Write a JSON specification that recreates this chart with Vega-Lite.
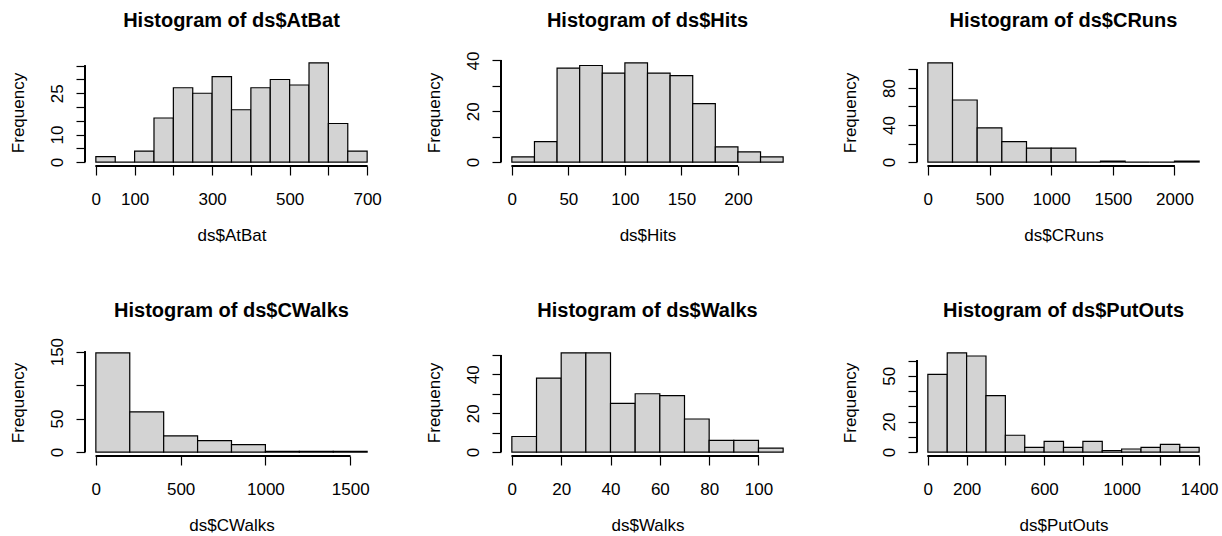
{
  "$schema": "https://vega.github.io/schema/vega-lite/v6.json",
  "padding": {"left": 9, "top": 10, "right": 0, "bottom": 0},
  "background": "#ffffff",
  "config": {
    "view": {"stroke": null},
    "title": {"font": "Liberation Sans", "fontSize": 20, "fontWeight": "bold", "color": "#000000", "baseline": "alphabetic", "anchor": "middle", "frame": "group"},
    "axis": {"labelFont": "Liberation Sans", "labelFontSize": 17, "labelColor": "#000000", "titleFont": "Liberation Sans", "titleFontSize": 17, "titleFontWeight": "normal", "titleColor": "#000000", "domain": false, "grid": false, "tickColor": "#000000", "tickSize": 9, "tickWidth": 1.2, "labelFlush": false, "labelOverlap": false, "labelBound": false, "format": "d"},
    "axisX": {"labelPadding": 16, "titlePadding": 20},
    "axisY": {"labelAngle": 270, "labelAlign": "center", "labelBaseline": "alphabetic", "labelPadding": 13.7, "titlePadding": 21}
  },
  "datasets": {
    "AtBat": [
      {"start": 0, "end": 50, "count": 2}, {"start": 50, "end": 100, "count": 0}, {"start": 100, "end": 150, "count": 4}, {"start": 150, "end": 200, "count": 16}, {"start": 200, "end": 250, "count": 27}, {"start": 250, "end": 300, "count": 25}, {"start": 300, "end": 350, "count": 31}, {"start": 350, "end": 400, "count": 19}, {"start": 400, "end": 450, "count": 27}, {"start": 450, "end": 500, "count": 30}, {"start": 500, "end": 550, "count": 28}, {"start": 550, "end": 600, "count": 36}, {"start": 600, "end": 650, "count": 14}, {"start": 650, "end": 700, "count": 4}
    ],
    "Hits": [
      {"start": 0, "end": 20, "count": 2}, {"start": 20, "end": 40, "count": 8}, {"start": 40, "end": 60, "count": 37}, {"start": 60, "end": 80, "count": 38}, {"start": 80, "end": 100, "count": 35}, {"start": 100, "end": 120, "count": 39}, {"start": 120, "end": 140, "count": 35}, {"start": 140, "end": 160, "count": 34}, {"start": 160, "end": 180, "count": 23}, {"start": 180, "end": 200, "count": 6}, {"start": 200, "end": 220, "count": 4}, {"start": 220, "end": 240, "count": 2}
    ],
    "CRuns": [
      {"start": 0, "end": 200, "count": 107}, {"start": 200, "end": 400, "count": 67}, {"start": 400, "end": 600, "count": 37}, {"start": 600, "end": 800, "count": 22}, {"start": 800, "end": 1000, "count": 15}, {"start": 1000, "end": 1200, "count": 15}, {"start": 1200, "end": 1400, "count": 0}, {"start": 1400, "end": 1600, "count": 1}, {"start": 1600, "end": 1800, "count": 0}, {"start": 1800, "end": 2000, "count": 0}, {"start": 2000, "end": 2200, "count": 1}
    ],
    "CWalks": [
      {"start": 0, "end": 200, "count": 148}, {"start": 200, "end": 400, "count": 60}, {"start": 400, "end": 600, "count": 24}, {"start": 600, "end": 800, "count": 17}, {"start": 800, "end": 1000, "count": 11}, {"start": 1000, "end": 1200, "count": 1}, {"start": 1200, "end": 1400, "count": 1}, {"start": 1400, "end": 1600, "count": 1}
    ],
    "Walks": [
      {"start": 0, "end": 10, "count": 8}, {"start": 10, "end": 20, "count": 38}, {"start": 20, "end": 30, "count": 51}, {"start": 30, "end": 40, "count": 51}, {"start": 40, "end": 50, "count": 25}, {"start": 50, "end": 60, "count": 30}, {"start": 60, "end": 70, "count": 29}, {"start": 70, "end": 80, "count": 17}, {"start": 80, "end": 90, "count": 6}, {"start": 90, "end": 100, "count": 6}, {"start": 100, "end": 110, "count": 2}
    ],
    "PutOuts": [
      {"start": 0, "end": 100, "count": 51}, {"start": 100, "end": 200, "count": 65}, {"start": 200, "end": 300, "count": 63}, {"start": 300, "end": 400, "count": 37}, {"start": 400, "end": 500, "count": 11}, {"start": 500, "end": 600, "count": 3}, {"start": 600, "end": 700, "count": 7}, {"start": 700, "end": 800, "count": 3}, {"start": 800, "end": 900, "count": 7}, {"start": 900, "end": 1000, "count": 1}, {"start": 1000, "end": 1100, "count": 2}, {"start": 1100, "end": 1200, "count": 3}, {"start": 1200, "end": 1300, "count": 5}, {"start": 1300, "end": 1400, "count": 3}
    ]
  },
  "columns": 3,
  "spacing": {"row": 183, "column": 123},
  "bounds": "flush",
  "concat": [
    {
      "title": {"text": "Histogram of ds$AtBat", "offset": 28},
      "width": 293, "height": 107,
      "data": {"name": "AtBat"},
      "layer": [
        {"mark": {"type": "rect", "fill": "#d3d3d3", "stroke": "#000000", "strokeWidth": 1.2},
         "encoding": {
           "x": {"field": "start", "type": "quantitative", "scale": {"domain": [-28, 728], "nice": false, "zero": false}, "axis": {"title": "ds$AtBat", "values": [0, 100, 200, 300, 400, 500, 600, 700], "labelExpr": "indexof([0,100,300,500,700], datum.value) >= 0 ? datum.label : ''"}},
           "x2": {"field": "end"},
           "y": {"field": "count", "type": "quantitative", "scale": {"domain": [-1.44, 37.44], "nice": false, "zero": false}, "axis": {"title": "Frequency", "values": [0, 5, 10, 15, 20, 25, 30, 35], "labelExpr": "indexof([0,10,25], datum.value) >= 0 ? datum.label : ''"}},
           "y2": {"datum": 0}
         }},
        {"mark": {"type": "rule", "stroke": "#000000", "strokeWidth": 1.2},
         "encoding": {
           "x": {"datum": 0, "type": "quantitative", "axis": {"title": "ds$AtBat", "values": [0, 100, 200, 300, 400, 500, 600, 700], "labelExpr": "indexof([0,100,300,500,700], datum.value) >= 0 ? datum.label : ''"}},
           "x2": {"datum": 700},
           "y": {"datum": -1.44, "type": "quantitative", "axis": {"title": "Frequency", "values": [0, 5, 10, 15, 20, 25, 30, 35], "labelExpr": "indexof([0,10,25], datum.value) >= 0 ? datum.label : ''"}}
         }},
        {"mark": {"type": "rule", "stroke": "#000000", "strokeWidth": 1.2},
         "encoding": {
           "x": {"datum": -28, "type": "quantitative", "axis": {"title": "ds$AtBat", "values": [0, 100, 200, 300, 400, 500, 600, 700], "labelExpr": "indexof([0,100,300,500,700], datum.value) >= 0 ? datum.label : ''"}},
           "y": {"datum": 0, "type": "quantitative", "axis": {"title": "Frequency", "values": [0, 5, 10, 15, 20, 25, 30, 35], "labelExpr": "indexof([0,10,25], datum.value) >= 0 ? datum.label : ''"}},
           "y2": {"datum": 35}
         }}
      ]
    },
    {
      "title": {"text": "Histogram of ds$Hits", "offset": 20},
      "width": 293, "height": 107,
      "data": {"name": "Hits"},
      "layer": [
        {"mark": {"type": "rect", "fill": "#d3d3d3", "stroke": "#000000", "strokeWidth": 1.2},
         "encoding": {
           "x": {"field": "start", "type": "quantitative", "scale": {"domain": [-9.6, 249.6], "nice": false, "zero": false}, "axis": {"title": "ds$Hits", "values": [0, 50, 100, 150, 200]}},
           "x2": {"field": "end"},
           "y": {"field": "count", "type": "quantitative", "scale": {"domain": [-1.56, 40.56], "nice": false, "zero": false}, "axis": {"title": "Frequency", "values": [0, 10, 20, 30, 40], "labelExpr": "indexof([0,20,40], datum.value) >= 0 ? datum.label : ''"}},
           "y2": {"datum": 0}
         }},
        {"mark": {"type": "rule", "stroke": "#000000", "strokeWidth": 1.2},
         "encoding": {
           "x": {"datum": 0, "type": "quantitative", "axis": {"title": "ds$Hits", "values": [0, 50, 100, 150, 200]}},
           "x2": {"datum": 200},
           "y": {"datum": -1.56, "type": "quantitative", "axis": {"title": "Frequency", "values": [0, 10, 20, 30, 40], "labelExpr": "indexof([0,20,40], datum.value) >= 0 ? datum.label : ''"}}
         }},
        {"mark": {"type": "rule", "stroke": "#000000", "strokeWidth": 1.2},
         "encoding": {
           "x": {"datum": -9.6, "type": "quantitative", "axis": {"title": "ds$Hits", "values": [0, 50, 100, 150, 200]}},
           "y": {"datum": 0, "type": "quantitative", "axis": {"title": "Frequency", "values": [0, 10, 20, 30, 40], "labelExpr": "indexof([0,20,40], datum.value) >= 0 ? datum.label : ''"}},
           "y2": {"datum": 40}
         }}
      ]
    },
    {
      "title": {"text": "Histogram of ds$CRuns", "offset": 28},
      "width": 293, "height": 107,
      "data": {"name": "CRuns"},
      "layer": [
        {"mark": {"type": "rect", "fill": "#d3d3d3", "stroke": "#000000", "strokeWidth": 1.2},
         "encoding": {
           "x": {"field": "start", "type": "quantitative", "scale": {"domain": [-88, 2288], "nice": false, "zero": false}, "axis": {"title": "ds$CRuns", "values": [0, 500, 1000, 1500, 2000]}},
           "x2": {"field": "end"},
           "y": {"field": "count", "type": "quantitative", "scale": {"domain": [-4.28, 111.28], "nice": false, "zero": false}, "axis": {"title": "Frequency", "values": [0, 20, 40, 60, 80, 100], "labelExpr": "indexof([0,40,80], datum.value) >= 0 ? datum.label : ''"}},
           "y2": {"datum": 0}
         }},
        {"mark": {"type": "rule", "stroke": "#000000", "strokeWidth": 1.2},
         "encoding": {
           "x": {"datum": 0, "type": "quantitative", "axis": {"title": "ds$CRuns", "values": [0, 500, 1000, 1500, 2000]}},
           "x2": {"datum": 2000},
           "y": {"datum": -4.28, "type": "quantitative", "axis": {"title": "Frequency", "values": [0, 20, 40, 60, 80, 100], "labelExpr": "indexof([0,40,80], datum.value) >= 0 ? datum.label : ''"}}
         }},
        {"mark": {"type": "rule", "stroke": "#000000", "strokeWidth": 1.2},
         "encoding": {
           "x": {"datum": -88, "type": "quantitative", "axis": {"title": "ds$CRuns", "values": [0, 500, 1000, 1500, 2000]}},
           "y": {"datum": 0, "type": "quantitative", "axis": {"title": "Frequency", "values": [0, 20, 40, 60, 80, 100], "labelExpr": "indexof([0,40,80], datum.value) >= 0 ? datum.label : ''"}},
           "y2": {"datum": 100}
         }}
      ]
    },
    {
      "title": {"text": "Histogram of ds$CWalks", "offset": 16},
      "width": 293, "height": 107,
      "data": {"name": "CWalks"},
      "layer": [
        {"mark": {"type": "rect", "fill": "#d3d3d3", "stroke": "#000000", "strokeWidth": 1.2},
         "encoding": {
           "x": {"field": "start", "type": "quantitative", "scale": {"domain": [-64, 1664], "nice": false, "zero": false}, "axis": {"title": "ds$CWalks", "values": [0, 500, 1000, 1500]}},
           "x2": {"field": "end"},
           "y": {"field": "count", "type": "quantitative", "scale": {"domain": [-5.92, 153.92], "nice": false, "zero": false}, "axis": {"title": "Frequency", "values": [0, 50, 100, 150], "labelExpr": "indexof([0,50,150], datum.value) >= 0 ? datum.label : ''"}},
           "y2": {"datum": 0}
         }},
        {"mark": {"type": "rule", "stroke": "#000000", "strokeWidth": 1.2},
         "encoding": {
           "x": {"datum": 0, "type": "quantitative", "axis": {"title": "ds$CWalks", "values": [0, 500, 1000, 1500]}},
           "x2": {"datum": 1500},
           "y": {"datum": -5.92, "type": "quantitative", "axis": {"title": "Frequency", "values": [0, 50, 100, 150], "labelExpr": "indexof([0,50,150], datum.value) >= 0 ? datum.label : ''"}}
         }},
        {"mark": {"type": "rule", "stroke": "#000000", "strokeWidth": 1.2},
         "encoding": {
           "x": {"datum": -64, "type": "quantitative", "axis": {"title": "ds$CWalks", "values": [0, 500, 1000, 1500]}},
           "y": {"datum": 0, "type": "quantitative", "axis": {"title": "Frequency", "values": [0, 50, 100, 150], "labelExpr": "indexof([0,50,150], datum.value) >= 0 ? datum.label : ''"}},
           "y2": {"datum": 150}
         }}
      ]
    },
    {
      "title": {"text": "Histogram of ds$Walks", "offset": 28},
      "width": 293, "height": 107,
      "data": {"name": "Walks"},
      "layer": [
        {"mark": {"type": "rect", "fill": "#d3d3d3", "stroke": "#000000", "strokeWidth": 1.2},
         "encoding": {
           "x": {"field": "start", "type": "quantitative", "scale": {"domain": [-4.4, 114.4], "nice": false, "zero": false}, "axis": {"title": "ds$Walks", "values": [0, 20, 40, 60, 80, 100]}},
           "x2": {"field": "end"},
           "y": {"field": "count", "type": "quantitative", "scale": {"domain": [-2.04, 53.04], "nice": false, "zero": false}, "axis": {"title": "Frequency", "values": [0, 10, 20, 30, 40, 50], "labelExpr": "indexof([0,20,40], datum.value) >= 0 ? datum.label : ''"}},
           "y2": {"datum": 0}
         }},
        {"mark": {"type": "rule", "stroke": "#000000", "strokeWidth": 1.2},
         "encoding": {
           "x": {"datum": 0, "type": "quantitative", "axis": {"title": "ds$Walks", "values": [0, 20, 40, 60, 80, 100]}},
           "x2": {"datum": 100},
           "y": {"datum": -2.04, "type": "quantitative", "axis": {"title": "Frequency", "values": [0, 10, 20, 30, 40, 50], "labelExpr": "indexof([0,20,40], datum.value) >= 0 ? datum.label : ''"}}
         }},
        {"mark": {"type": "rule", "stroke": "#000000", "strokeWidth": 1.2},
         "encoding": {
           "x": {"datum": -4.4, "type": "quantitative", "axis": {"title": "ds$Walks", "values": [0, 20, 40, 60, 80, 100]}},
           "y": {"datum": 0, "type": "quantitative", "axis": {"title": "Frequency", "values": [0, 10, 20, 30, 40, 50], "labelExpr": "indexof([0,20,40], datum.value) >= 0 ? datum.label : ''"}},
           "y2": {"datum": 50}
         }}
      ]
    },
    {
      "title": {"text": "Histogram of ds$PutOuts", "offset": 28},
      "width": 293, "height": 107,
      "data": {"name": "PutOuts"},
      "layer": [
        {"mark": {"type": "rect", "fill": "#d3d3d3", "stroke": "#000000", "strokeWidth": 1.2},
         "encoding": {
           "x": {"field": "start", "type": "quantitative", "scale": {"domain": [-56, 1456], "nice": false, "zero": false}, "axis": {"title": "ds$PutOuts", "values": [0, 200, 400, 600, 800, 1000, 1200, 1400], "labelExpr": "indexof([0,200,600,1000,1400], datum.value) >= 0 ? datum.label : ''"}},
           "x2": {"field": "end"},
           "y": {"field": "count", "type": "quantitative", "scale": {"domain": [-2.6, 67.6], "nice": false, "zero": false}, "axis": {"title": "Frequency", "values": [0, 10, 20, 30, 40, 50, 60], "labelExpr": "indexof([0,20,50], datum.value) >= 0 ? datum.label : ''"}},
           "y2": {"datum": 0}
         }},
        {"mark": {"type": "rule", "stroke": "#000000", "strokeWidth": 1.2},
         "encoding": {
           "x": {"datum": 0, "type": "quantitative", "axis": {"title": "ds$PutOuts", "values": [0, 200, 400, 600, 800, 1000, 1200, 1400], "labelExpr": "indexof([0,200,600,1000,1400], datum.value) >= 0 ? datum.label : ''"}},
           "x2": {"datum": 1400},
           "y": {"datum": -2.6, "type": "quantitative", "axis": {"title": "Frequency", "values": [0, 10, 20, 30, 40, 50, 60], "labelExpr": "indexof([0,20,50], datum.value) >= 0 ? datum.label : ''"}}
         }},
        {"mark": {"type": "rule", "stroke": "#000000", "strokeWidth": 1.2},
         "encoding": {
           "x": {"datum": -56, "type": "quantitative", "axis": {"title": "ds$PutOuts", "values": [0, 200, 400, 600, 800, 1000, 1200, 1400], "labelExpr": "indexof([0,200,600,1000,1400], datum.value) >= 0 ? datum.label : ''"}},
           "y": {"datum": 0, "type": "quantitative", "axis": {"title": "Frequency", "values": [0, 10, 20, 30, 40, 50, 60], "labelExpr": "indexof([0,20,50], datum.value) >= 0 ? datum.label : ''"}},
           "y2": {"datum": 60}
         }}
      ]
    }
  ]
}
